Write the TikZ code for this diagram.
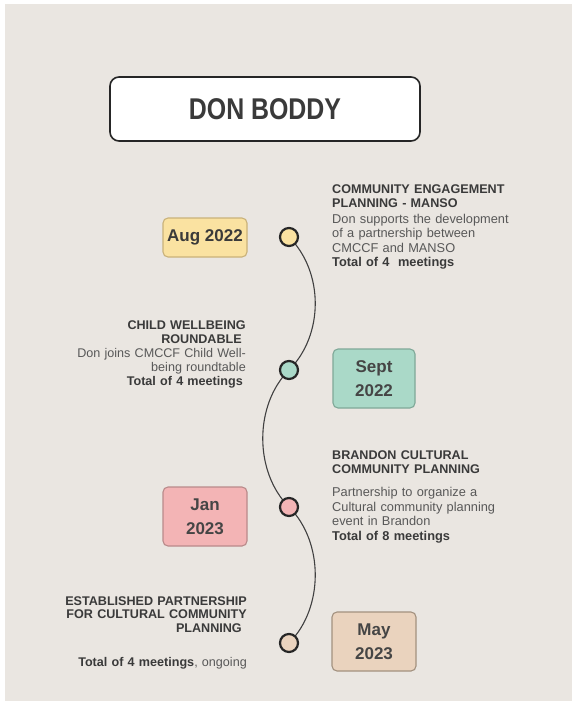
\documentclass[tikz,border=0pt]{standalone}
\usepackage{fontspec}
\setmainfont{Liberation Sans}
\newfontfamily\titlefont[FakeStretch=0.83]{Liberation Sans}
\pgfdeclarelayer{bg}
\pgfdeclarelayer{lines}
\pgfsetlayers{bg,lines,main}
\definecolor{bgc}{HTML}{EAE6E1}
\definecolor{ink}{HTML}{3A3A3A}
\definecolor{body}{HTML}{585858}
\definecolor{augf}{HTML}{FAE2A1}\definecolor{augd}{HTML}{C9B27A}
\definecolor{sepf}{HTML}{AAD9C8}\definecolor{sepd}{HTML}{7FA898}
\definecolor{janf}{HTML}{F3B4B5}\definecolor{jand}{HTML}{B98A8A}
\definecolor{mayf}{HTML}{EAD3BE}\definecolor{mayd}{HTML}{A3917F}
\definecolor{dtxt}{HTML}{454545}
\tikzset{
  datebox/.style={draw, line width=1.1pt, rounded corners=5pt, inner sep=0pt,
    minimum width=84pt, align=center, text=dtxt,
    font=\fontsize{17}{24}\selectfont\bfseries},
  dot/.style={circle, draw=black!85, line width=2.2pt, minimum size=18pt, inner sep=0pt},
  blockL/.style={inner sep=0pt, text width=200pt, align=left, anchor=base west,
    font=\fontsize{12.8}{14.4}\selectfont, text=body},
  blockR/.style={inner sep=0pt, text width=200pt, align=right, anchor=base east,
    font=\fontsize{12.6}{14}\selectfont, text=body},
  curve/.style={draw=black!75, line width=1.1pt}
}
\newcommand{\hd}[1]{{\fontsize{12.6}{13.8}\selectfont\bfseries\color{ink}#1}}
\newcommand{\tot}[1]{{\bfseries\color{ink}#1}}
\begin{document}
\begin{tikzpicture}[x=1pt,y=-1pt]
\useasboundingbox (0,0) rectangle (572,701);
\begin{pgfonlayer}{bg}
  \fill[white] (0,0) rectangle (572,701);
  \fill[bgc] (5,4) rectangle (572,701);
\end{pgfonlayer}

% title
\node[draw=black!85, fill=white, line width=1.6pt, rounded corners=9pt,
  minimum width=310pt, minimum height=64pt, inner sep=0pt,
  font=\titlefont\fontsize{30}{30}\selectfont\bfseries, text=ink] (title) at (265,109) {DON BODDY};

% timeline dots
\node[dot, fill=augf] (c1) at (289,237) {};
\node[dot, fill=sepf] (c2) at (289,370) {};
\node[dot, fill=janf] (c3) at (289,507) {};
\node[dot, fill=mayf] (c4) at (289,643) {};

\begin{pgfonlayer}{lines}
  \draw[curve] (c1.center) .. controls (324,272) and (324,335) .. (c2.center);
  \draw[curve] (c2.center) .. controls (254,405) and (254,472) .. (c3.center);
  \draw[curve] (c3.center) .. controls (324,542) and (324,608) .. (c4.center);
\end{pgfonlayer}

% date boxes
\node[datebox, fill=augf, draw=augd, minimum height=39pt, text=ink] (d1) at (205,237.5) {Aug 2022};
\node[datebox, fill=sepf, draw=sepd, minimum width=82pt, minimum height=59pt] (d2) at (374,378.5) {Sept\\2022};
\node[datebox, fill=janf, draw=jand, minimum height=59pt] (d3) at (205,516.5) {Jan\\2023};
\node[datebox, fill=mayf, draw=mayd, minimum height=59pt] (d4) at (374,641.5) {May\\2023};

% text blocks
\node[blockL] (t1) at (332,193) {\hd{COMMUNITY ENGAGEMENT\\PLANNING - MANSO}\\[1.5pt]
Don supports the development\\of a partnership between\\CMCCF and MANSO\\\tot{Total of 4\ \ meetings}};

\node[blockR] (t2) at (246,329) {\hd{CHILD WELLBEING\\ROUNDABLE\hspace{4pt}}\\[0.5pt]
Don joins CMCCF Child Well-\\being roundtable\\\tot{Total of 4 meetings\hspace{3pt}}};

\node[blockL] (t3) at (332,459) {\hd{BRANDON CULTURAL\\COMMUNITY PLANNING}\\[9pt]
Partnership to organize a\\Cultural community planning\\event in Brandon\\\tot{Total of 8 meetings}};

\node[blockR] (t4) at (247,605) {\hd{ESTABLISHED PARTNERSHIP\\FOR CULTURAL COMMUNITY\\PLANNING\hspace{5pt}}\\[20pt]
\tot{Total of 4 meetings}, ongoing};
\end{tikzpicture}
\end{document}
